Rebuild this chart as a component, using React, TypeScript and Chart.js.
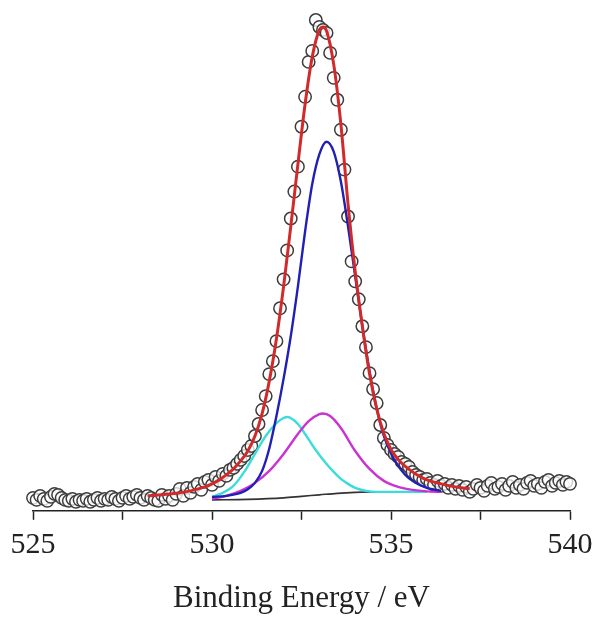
import React, { useEffect, useRef } from "react";
import { Chart, registerables } from "chart.js";

Chart.register(...registerables);

// Observed spectrum (binding energy in eV, intensity in arbitrary units)
const obsEnergy = [
  525.0, 525.1, 525.2, 525.3, 525.4, 525.5, 525.6, 525.7, 525.8, 525.9,
  526.0, 526.1, 526.2, 526.3, 526.4, 526.5, 526.6, 526.7, 526.8, 526.9,
  527.0, 527.1, 527.2, 527.3, 527.4, 527.5, 527.6, 527.7, 527.8, 527.9,
  528.0, 528.1, 528.2, 528.3, 528.4, 528.5, 528.6, 528.7, 528.8, 528.9,
  529.0, 529.1, 529.2, 529.3, 529.4, 529.5, 529.6, 529.7, 529.8, 529.9,
  530.0, 530.1, 530.2, 530.3, 530.4, 530.5, 530.6, 530.7, 530.8, 530.9,
  531.0, 531.1, 531.2, 531.3, 531.4, 531.5, 531.6, 531.7, 531.8, 531.9,
  532.0, 532.1, 532.2, 532.3, 532.4, 532.5, 532.6, 532.7, 532.8, 532.9,
  533.0, 533.1, 533.2, 533.3, 533.4, 533.5, 533.6, 533.7, 533.8, 533.9,
  534.0, 534.1, 534.2, 534.3, 534.4, 534.5, 534.6, 534.7, 534.8, 534.9,
  535.0, 535.1, 535.2, 535.3, 535.4, 535.5, 535.6, 535.7, 535.8, 535.9,
  536.0, 536.1, 536.2, 536.3, 536.4, 536.5, 536.6, 536.7, 536.8, 536.9,
  537.0, 537.1, 537.2, 537.3, 537.4, 537.5, 537.6, 537.7, 537.8, 537.9,
  538.0, 538.1, 538.2, 538.3, 538.4, 538.5, 538.6, 538.7, 538.8, 538.9,
  539.0, 539.1, 539.2, 539.3, 539.4, 539.5, 539.6, 539.7, 539.8, 539.9,
  540.0,
];
const obsCounts = [
  2.6, 2.2, 3.0, 2.4, 2.0, 2.8, 3.4, 3.2, 2.6, 2.2,
  2.0, 2.4, 1.8, 2.2, 2.0, 2.4, 1.8, 2.2, 2.6, 2.0,
  2.4, 2.2, 2.8, 2.4, 2.0, 2.6, 3.0, 2.4, 2.8, 3.2,
  2.6, 2.2, 3.0, 2.6, 2.2, 2.0, 3.2, 2.4, 3.0, 2.2,
  3.4, 4.4, 3.0, 4.6, 3.6, 4.8, 5.4, 4.2, 5.8, 6.2,
  5.2, 6.8, 6.0, 7.4, 7.0, 8.2, 8.6, 9.4, 10.2, 11.0,
  12.2, 13.0, 15.0, 17.4, 20.2, 23.0, 27.4, 30.0, 34.0, 40.6,
  46.4, 52.2, 58.6, 64.0, 69.0, 77.0, 83.0, 90.0, 92.2, 98.4,
  97.0, 96.4, 95.8, 91.8, 86.8, 82.4, 76.4, 68.4, 59.0, 50.0,
  46.0, 42.4, 37.0, 32.8, 27.6, 24.4, 21.6, 17.2, 14.6, 13.2,
  12.2, 11.4, 10.8, 9.8, 9.4, 8.8, 7.8, 7.2, 6.8, 6.2,
  6.4, 5.6, 5.2, 6.0, 5.0, 5.4, 4.6, 5.2, 4.4, 5.0,
  4.2, 4.8, 3.8, 4.4, 5.2, 4.6, 4.0, 5.0, 5.6, 4.4,
  4.8, 5.4, 4.2, 5.0, 5.8, 4.6, 5.2, 4.4, 5.6, 6.0,
  5.0, 5.4, 4.6, 5.8, 6.2, 5.0, 5.6, 6.0, 5.2, 5.8,
  5.4,
];

// Envelope (total fit)
const fitEnergy = [
  528.2, 528.6, 529.0, 529.4, 529.8, 530.0, 530.2, 530.4, 530.6, 530.8,
  531.0, 531.2, 531.4, 531.6, 531.8, 532.0, 532.2, 532.4, 532.6, 532.8,
  533.0, 533.1, 533.2, 533.4, 533.6, 533.8, 534.0, 534.2, 534.4, 534.6,
  534.8, 535.0, 535.2, 535.4, 535.6, 535.8, 536.0, 536.4, 536.8, 537.2,
];
const fitTotal = [
  3.0, 3.2, 3.5, 4.0, 4.8, 5.4, 6.2, 7.2, 8.4, 10.0,
  12.0, 15.0, 19.5, 26.0, 34.5, 45.0, 57.0, 69.5, 81.5, 91.0,
  96.4, 97.0, 96.2, 89.5, 77.5, 61.5, 48.0, 37.0, 27.5, 20.5,
  15.5, 12.3, 10.3, 8.9, 7.8, 6.9, 6.2, 5.4, 4.8, 4.4,
];

// Main component (blue)
const blueEnergy = [
  530.0, 530.4, 530.8, 531.0, 531.2, 531.4, 531.6, 531.8, 532.0, 532.2,
  532.4, 532.6, 532.8, 533.0, 533.2, 533.4, 533.6, 533.8, 534.0, 534.2,
  534.4, 534.6, 534.8, 535.0, 535.2, 535.4, 535.6, 535.8, 536.0, 536.4,
];
const blueCounts = [
  2.8, 3.0, 3.6, 4.3, 5.6, 8.0, 12.5, 19.0, 26.5, 35.0,
  45.0, 56.0, 65.5, 71.5, 74.0, 72.0, 66.0, 57.0, 47.0, 37.0,
  28.0, 20.5, 15.0, 11.5, 9.0, 7.2, 6.0, 5.2, 4.6, 4.0,
];

// Low-energy component (cyan)
const cyanEnergy = [
  530.0, 530.3, 530.6, 530.9, 531.2, 531.5, 531.8, 532.0, 532.1, 532.2,
  532.4, 532.6, 532.8, 533.0, 533.2, 533.4, 533.6, 533.8, 534.0, 534.3,
  534.6, 535.0, 535.5, 536.0,
];
const cyanCounts = [
  2.8, 3.6, 5.0, 7.8, 11.4, 15.0, 17.6, 18.6, 18.8, 18.6,
  17.4, 15.4, 13.2, 11.2, 9.4, 7.8, 6.4, 5.4, 4.6, 4.0,
  3.8, 3.8, 3.8, 3.8,
];

// High-energy component (magenta)
const magentaEnergy = [
  530.0, 530.4, 530.8, 531.2, 531.6, 532.0, 532.4, 532.7, 533.0, 533.1,
  533.3, 533.6, 534.0, 534.4, 534.8, 535.2, 535.6, 536.0, 536.4,
];
const magentaCounts = [
  2.4, 3.0, 4.0, 5.6, 8.0, 11.4, 15.4, 18.0, 19.4, 19.5,
  19.0, 16.6, 12.0, 8.4, 6.0, 4.8, 4.2, 3.9, 3.8,
];

// Background (dark grey)
const bgEnergy = [530.0, 531.0, 532.0, 532.5, 533.0, 533.5, 534.0, 534.5, 535.0, 536.0];
const bgCounts = [2.2, 2.3, 2.6, 2.9, 3.2, 3.5, 3.7, 3.8, 3.8, 3.8];

const xTickLabels = ["525", "530", "535", "540"];

const pair = (xs: number[], ys: number[]) => xs.map((x, i) => ({ x, y: ys[i] }));

const serif = "'Liberation Serif', 'Times New Roman', Times, serif";

export default function App() {
  const ref = useRef<HTMLCanvasElement>(null);

  useEffect(() => {
    document.body.style.margin = "0";
    if (!ref.current) return;
    const curve = (data: any, color: string, width: number, order: number) => ({
      data,
      showLine: true,
      borderColor: color,
      backgroundColor: color,
      borderWidth: width,
      pointRadius: 0,
      pointHoverRadius: 0,
      fill: false,
      cubicInterpolationMode: "monotone" as const,
      order,
    });
    const chart = new Chart(ref.current, {
      type: "scatter",
      data: {
        datasets: [
          { label: "Fit", ...curve(pair(fitEnergy, fitTotal), "#d02a2a", 3.0, 0) },
          { label: "Blue", ...curve(pair(blueEnergy, blueCounts), "#2020b4", 2.4, 1) },
          { label: "Magenta", ...curve(pair(magentaEnergy, magentaCounts), "#c833d2", 2.4, 2) },
          { label: "Cyan", ...curve(pair(cyanEnergy, cyanCounts), "#3cdcdc", 2.4, 3) },
          { label: "Background", ...curve(pair(bgEnergy, bgCounts), "#333333", 1.6, 4) },
          {
            label: "Data",
            data: pair(obsEnergy, obsCounts),
            showLine: false,
            pointStyle: "circle",
            pointRadius: 6.2,
            pointBorderWidth: 1.5,
            pointBorderColor: "#3c3c3c",
            pointBackgroundColor: "rgba(255,255,255,0.75)",
            clip: false as any,
            order: 5,
          },
        ],
      },
      options: {
        responsive: false,
        animation: false,
        events: [],
        plugins: { legend: { display: false }, tooltip: { enabled: false } },
        layout: { padding: { left: 33, right: 27, top: 12, bottom: 0 } },
        scales: {
          x: {
            type: "linear",
            min: 525,
            max: 540,
            ticks: {
              stepSize: 2.5,
              autoSkip: false,
              maxRotation: 0,
              padding: 1,
              color: "#222",
              font: { family: serif, size: 30, lineHeight: 1.6 },
              callback: (v: any) => {
                const s = String(v);
                return xTickLabels.includes(s) ? s : "";
              },
            },
            grid: {
              display: true,
              drawOnChartArea: false,
              drawTicks: true,
              tickLength: 9,
              tickColor: "#222",
              tickWidth: 1.5,
            },
            border: { display: true, color: "#222", width: 1.5 },
            title: {
              display: true,
              text: "Binding Energy / eV",
              color: "#222",
              font: { family: serif, size: 31, lineHeight: 1.2 },
              padding: { top: 10, bottom: 0 },
            },
          },
          y: { display: false, min: 0, max: 100 },
        },
      },
    });
    return () => chart.destroy();
  }, []);

  return (
    <div style={{ position: "absolute", left: 0, top: 0, width: 597, height: 617, background: "#fff" }}>
      <canvas ref={ref} width={597} height={617} style={{ display: "block" }} />
    </div>
  );
}
